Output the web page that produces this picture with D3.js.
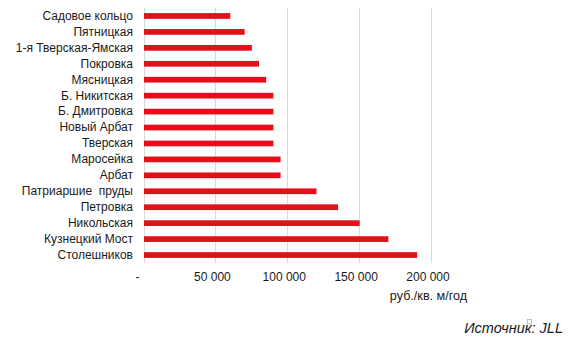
<!DOCTYPE html>
<html>
<head>
<meta charset="utf-8">
<script src="https://cdn.jsdelivr.net/npm/d3@7"></script>
<style>
  html, body { margin: 0; padding: 0; background: #fff; }
  svg { display: block; font-family: "Liberation Sans", Arial, sans-serif; }
  svg text { white-space: pre; }
</style>
</head>
<body>
<svg id="chart" width="570" height="341"></svg>
<script>
// Streets, top to bottom
const streets = [
  "Садовое кольцо", "Пятницкая", "1-я Тверская-Ямская", "Покровка", "Мясницкая",
  "Б. Никитская", "Б. Дмитровка", "Новый Арбат", "Тверская", "Маросейка",
  "Арбат", "Патриаршие  пруды", "Петровка", "Никольская", "Кузнецкий Мост", "Столешников"
];
// Rental rate, rub per sq. m per year
const rates = [
  60000, 70000, 75000, 80000, 85000,
  90000, 90000, 90000, 90000, 95000,
  95000, 120000, 135000, 150000, 170000, 190000
];
const tickValues = [0, 50000, 100000, 150000, 200000];
const tickLabels = ["-", "50 000", "100 000", "150 000", "200 000"];
const unitLabel = "руб./кв. м/год";
const sourceLabel = "Источник: JLL";

const svg = d3.select("#chart");
const plotLeft = 144, plotRight = 431.5, plotTop = 8, plotBottom = 263;

const x = d3.scaleLinear().domain([0, 200000]).range([plotLeft, plotRight]);
const y = d3.scaleBand().domain(streets).range([plotTop, plotBottom]).paddingInner(0.64).paddingOuter(0.32);

// vertical gridlines
svg.append("g")
  .selectAll("line")
  .data(tickValues)
  .join("line")
  .attr("x1", d => x(d)).attr("x2", d => x(d))
  .attr("y1", plotTop).attr("y2", plotBottom)
  .attr("stroke", "#d9d9d9").attr("stroke-width", 1)
  .attr("shape-rendering", "crispEdges");

// bars
svg.append("g")
  .selectAll("rect")
  .data(streets)
  .join("rect")
  .attr("x", x(0))
  .attr("y", d => y(d))
  .attr("width", (d, i) => x(rates[i]) - x(0))
  .attr("height", y.bandwidth())
  .attr("fill", "#e2101a");

// category axis
const yAxis = d3.axisLeft(y).tickSize(0).tickPadding(11);
const gy = svg.append("g").attr("transform", `translate(${plotLeft},0)`).call(yAxis);
gy.select(".domain").remove();
gy.selectAll("text").attr("font-size", 12).attr("fill", "#1a1a1a")
  .attr("font-family", "'Liberation Sans', Arial, sans-serif");

// value axis
const xAxis = d3.axisBottom(x).tickValues(tickValues)
  .tickFormat((d, i) => tickLabels[i]).tickSize(0).tickPadding(9);
const gx = svg.append("g").attr("transform", `translate(0,${plotBottom})`).call(xAxis);
gx.select(".domain").remove();
gx.selectAll("text").attr("font-size", 12).attr("fill", "#1a1a1a").attr("dx", -4)
  .attr("font-family", "'Liberation Sans', Arial, sans-serif");
gx.selectAll(".tick").filter(d => d === 0).select("text").attr("dx", -7);

// unit label
svg.append("text")
  .attr("x", 428.5).attr("y", 300)
  .attr("text-anchor", "middle")
  .attr("font-size", 12.6).attr("fill", "#1a1a1a")
  .text(unitLabel);

// source note
svg.append("text")
  .attr("x", 563).attr("y", 333)
  .attr("text-anchor", "end")
  .attr("font-size", 14.5).attr("font-style", "italic").attr("fill", "#1a1a1a")
  .text(sourceLabel);
svg.append("rect")
  .attr("x", 527.5).attr("y", 319.5).attr("width", 4).attr("height", 4.5)
  .attr("fill", "none").attr("stroke", "#aaa").attr("stroke-width", 0.7);
</script>
</body>
</html>
